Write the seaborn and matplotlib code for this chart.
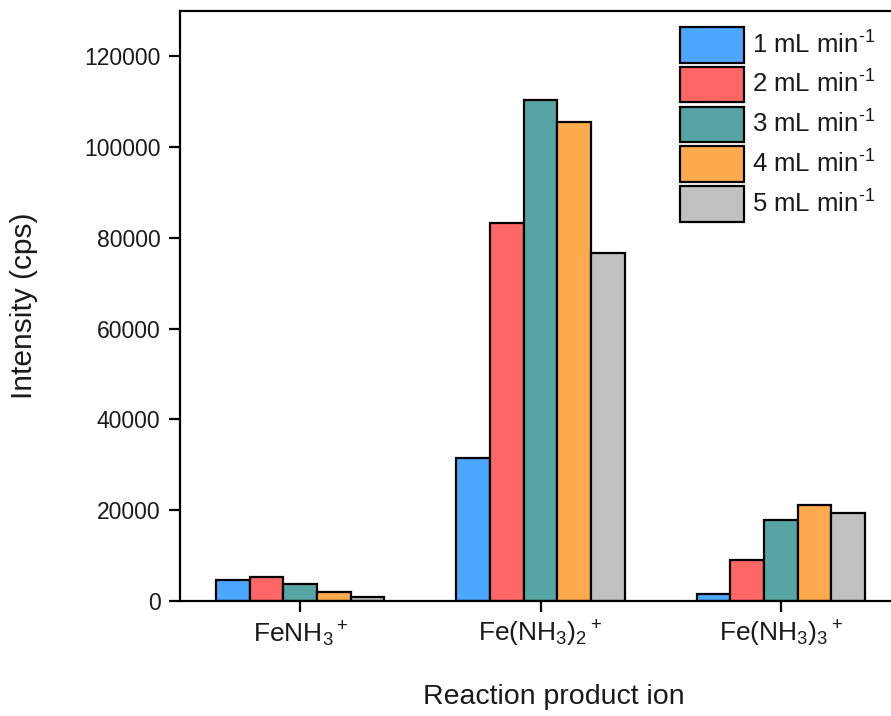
import matplotlib
matplotlib.use("Agg")
import matplotlib.pyplot as plt
import seaborn as sns
import pandas as pd

# Ion categories and flow rates
ions = [r"FeNH$_3$$^+$", r"Fe(NH$_3$)$_2$$^+$", r"Fe(NH$_3$)$_3$$^+$"]
flows = [r"1 mL min$^{\text{-1}}$", r"2 mL min$^{\text{-1}}$", r"3 mL min$^{\text{-1}}$",
         r"4 mL min$^{\text{-1}}$", r"5 mL min$^{\text{-1}}$"]

# Intensity (cps) per flow rate, in ion order
flow_1 = [4600, 31500, 1500]
flow_2 = [5200, 83300, 9000]
flow_3 = [3700, 110500, 17900]
flow_4 = [1900, 105600, 21200]
flow_5 = [850, 76700, 19300]

y_ticks = [0, 20000, 40000, 60000, 80000, 100000, 120000]

colors = ["#4DA6FF", "#FF6666", "#56A5A4", "#FFAA4D", "#C0C0C0"]

rows = []
for flow, vals in zip(flows, [flow_1, flow_2, flow_3, flow_4, flow_5]):
    for ion, v in zip(ions, vals):
        rows.append({"ion": ion, "flow": flow, "intensity": v})
df = pd.DataFrame(rows)

sns.set_theme(style="ticks")
plt.rcParams["font.family"] = ["Liberation Sans", "DejaVu Sans"]
plt.rcParams["mathtext.fontset"] = "custom"
plt.rcParams["mathtext.rm"] = "Liberation Sans"
plt.rcParams["mathtext.it"] = "Liberation Sans:italic"
plt.rcParams["mathtext.bf"] = "Liberation Sans:bold"

fig = plt.figure(figsize=(8.91, 7.16), dpi=100)
W, H = 891, 716
left, right, top, bottom = 180, 901, 11, 601
ax = fig.add_axes([left / W, 1 - bottom / H, (right - left) / W, (bottom - top) / H])

sns.barplot(data=df, x="ion", y="intensity", hue="flow", order=ions,
            hue_order=flows, palette=colors, saturation=1, width=0.7,
            edgecolor="black", linewidth=1.6, ax=ax, legend=True)

ax.set_xlim(-0.5, 2.5)
ax.set_ylim(0, 130000)
ax.set_yticks(y_ticks)
ax.set_yticklabels([str(t) for t in y_ticks])

for side in ["left", "bottom", "top", "right"]:
    ax.spines[side].set_visible(True)
    ax.spines[side].set_linewidth(1.6)
    ax.spines[side].set_color("black")

text_color = "#1a1a1a"
ax.tick_params(axis="both", direction="out", length=8, width=1.6,
               color="black", labelcolor=text_color)
ax.tick_params(axis="y", labelsize=16.5, pad=6)
ax.tick_params(axis="x", labelsize=19, pad=5)

ax.set_xlabel("Reaction product ion", fontsize=20.5, color=text_color)
ax.set_ylabel("Intensity (cps)", fontsize=21.5, color=text_color)
ax.xaxis.set_label_coords((554 - left) / (right - left), (bottom - 684) / (bottom - top))
ax.yaxis.set_label_coords((38 - left) / (right - left), 0.5)

handles, labels = ax.get_legend_handles_labels()
ax.legend(handles, labels, loc="upper left",
          bbox_to_anchor=(680 / W, 1 - 27 / H), bbox_transform=fig.transFigure,
          frameon=False, fontsize=18.5, handlelength=2.49, handleheight=1.76,
          labelspacing=0.16, handletextpad=0.3, borderpad=0, borderaxespad=0,
          labelcolor=text_color)

fig.savefig("out.png", dpi=100)
